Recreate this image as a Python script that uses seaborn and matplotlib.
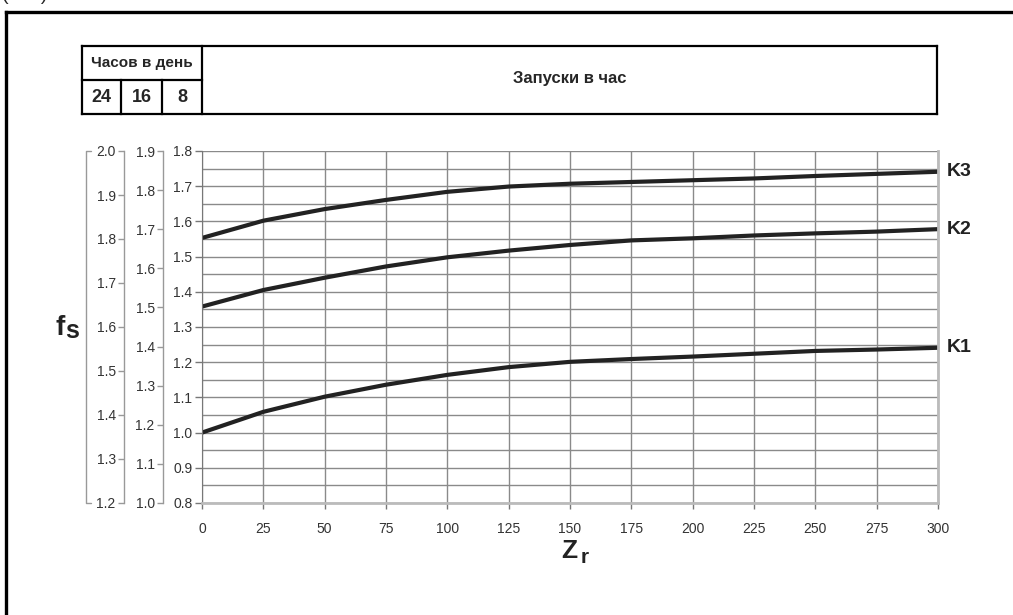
import numpy as np
import pandas as pd
import seaborn as sns
import matplotlib.pyplot as plt

# Data
zr = [0, 25, 50, 75, 100, 125, 150, 175, 200, 225, 250, 275, 300]
k1 = [1.000, 1.059, 1.102, 1.136, 1.164, 1.186, 1.201, 1.209, 1.216, 1.224, 1.232, 1.236, 1.241]
k2 = [1.358, 1.405, 1.440, 1.472, 1.498, 1.517, 1.533, 1.546, 1.552, 1.560, 1.566, 1.571, 1.578]
k3 = [1.553, 1.602, 1.635, 1.661, 1.684, 1.699, 1.707, 1.712, 1.717, 1.722, 1.729, 1.735, 1.741]
curve_names = ['K1', 'K2', 'K3']

xticks = [0, 25, 50, 75, 100, 125, 150, 175, 200, 225, 250, 275, 300]
yticks_8 = [0.8, 0.9, 1.0, 1.1, 1.2, 1.3, 1.4, 1.5, 1.6, 1.7, 1.8]
yticks_16 = [1.0, 1.1, 1.2, 1.3, 1.4, 1.5, 1.6, 1.7, 1.8, 1.9]
yticks_24 = [1.2, 1.3, 1.4, 1.5, 1.6, 1.7, 1.8, 1.9, 2.0]
hours_labels = ['24', '16', '8']

df = pd.DataFrame({
    'Zr': zr * 3,
    'fs': k1 + k2 + k3,
    'curve': ['K1'] * len(zr) + ['K2'] * len(zr) + ['K3'] * len(zr),
})

sns.set_style('white')
plt.rcParams['font.family'] = ['Liberation Sans', 'DejaVu Sans']

W, H = 1013, 615
fig = plt.figure(figsize=(W / 100, H / 100), dpi=100)


def px(x):
    return x / W


def py(y):
    return 1 - y / H


# main axes: 0..300 at px 202..938, 0.8..1.8 at py 503..151
ax = fig.add_axes([px(202), py(503), px(938) - px(202), py(151) - py(503)])
sns.lineplot(data=df, x='Zr', y='fs', hue='curve', palette=['#222222'] * 3,
             linewidth=3, legend=False, ax=ax)
ax.set_xlim(0, 300)
ax.set_ylim(0.8, 1.8)
ax.set_xticks(xticks)
ax.set_yticks(yticks_8)
ax.set_yticks(np.arange(0.85, 1.8, 0.1), minor=True)
ax.set_yticklabels([f'{v:.1f}' for v in yticks_8])
ax.grid(True, which='both', color='#8a8a8a', linewidth=1)
ax.tick_params(axis='y', which='major', direction='out', length=5, width=1,
               color='#777777', pad=2, labelsize=10, labelcolor='#333333', left=True)
ax.tick_params(axis='y', which='minor', length=0)
ax.tick_params(axis='x', direction='out', length=4, width=1, color='#777777',
               pad=10, labelsize=10, labelcolor='#333333', bottom=True)
ax.set_xlabel('')
ax.set_ylabel('')
ax.spines['top'].set_visible(False)
ax.spines['left'].set_color('#777777')
ax.spines['right'].set_color('#bbbbbb')
ax.spines['right'].set_linewidth(2)
ax.spines['bottom'].set_color('#bbbbbb')
ax.spines['bottom'].set_linewidth(2)

# secondary scales for 16 h and 24 h per day
sec16 = ax.secondary_yaxis((163 - 202) / 736,
                           functions=(lambda v: (v - 0.8) * 0.9 + 1.0,
                                      lambda v: (v - 1.0) / 0.9 + 0.8))
sec24 = ax.secondary_yaxis((124 - 202) / 736,
                           functions=(lambda v: (v - 0.8) * 0.8 + 1.2,
                                      lambda v: (v - 1.2) / 0.8 + 0.8))
for sec, ticks in [(sec16, yticks_16), (sec24, yticks_24)]:
    sec.set_yticks(ticks)
    sec.set_yticklabels([f'{v:.1f}' for v in ticks])
    sec.tick_params(direction='out', length=4, width=1, color='#999999',
                    pad=2, labelsize=10, labelcolor='#333333')
    sec.spines['left'].set_color('#999999')
    sec.spines['left'].set_linewidth(1)

# bracket left of the 24 h scale
bx = (86 - 202) / 736
bx2 = (91 - 202) / 736
ax.plot([bx2, bx, bx, bx2], [1, 1, 0, 0], transform=ax.transAxes,
        color='#999999', linewidth=1, clip_on=False)

# curve labels
for name, vals in zip(curve_names, [k1, k2, k3]):
    ax.annotate(name, xy=(300, vals[-1]), xytext=(6, 0), textcoords='offset points',
                ha='left', va='center', fontsize=14, fontweight='bold', color='#222222',
                annotation_clip=False)

# axis labels
fig.text(px(55), py(335), 'f', fontsize=20, fontweight='bold', color='#222222',
         ha='left', va='baseline')
fig.text(px(65), py(338), 's', fontsize=18, fontweight='bold', color='#222222',
         ha='left', va='baseline')
fig.text(px(561), py(558), 'Z', fontsize=19, fontweight='bold', color='#222222',
         ha='left', va='baseline')
fig.text(px(581), py(563), 'r', fontsize=15, fontweight='bold', color='#222222',
         ha='left', va='baseline')

# header table
lw_box = 1.6


def fline(x0, y0, x1, y1, lw=lw_box):
    fig.add_artist(plt.Line2D([px(x0), px(x1)], [py(y0), py(y1)], color='black',
                              linewidth=lw, solid_capstyle='projecting'))


fline(82, 46, 937, 46)
fline(82, 114, 937, 114)
fline(82, 46, 82, 114)
fline(202, 46, 202, 114)
fline(937, 46, 937, 114)
fline(82, 80, 202, 80)
fline(121, 80, 121, 114)
fline(162, 80, 162, 114)

fig.text(px(142), py(63), 'Часов в день', fontsize=11, fontweight='bold',
         ha='center', va='center')
for label, cx in zip(hours_labels, [101.5, 141.5, 182]):
    fig.text(px(cx), py(98), label, fontsize=13, fontweight='bold',
             ha='center', va='center')
fig.text(px(570), py(79), 'Запуски в час', fontsize=12, fontweight='bold',
         ha='center', va='center')

# outer frame and cut-off caption
fline(6, 12, 1013, 12, lw=2.4)
fline(6, 12, 6, 615, lw=2.4)
fig.text(px(2), py(0), '(      )', fontsize=14, ha='left', va='baseline')

fig.savefig('out.png', dpi=100)
